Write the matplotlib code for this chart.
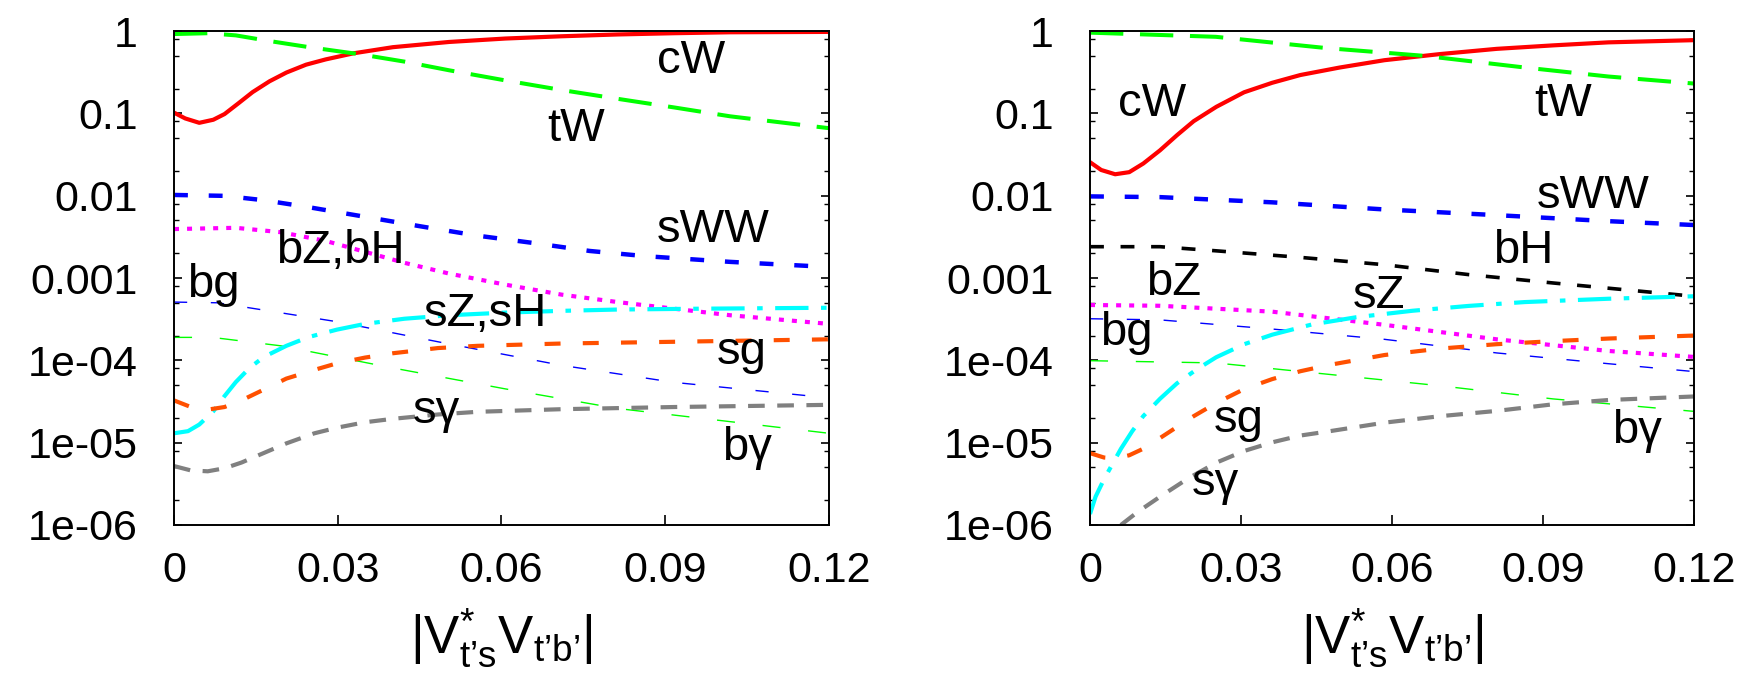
import matplotlib
matplotlib.use("Agg")
import matplotlib.pyplot as plt
from matplotlib.ticker import FixedLocator, FixedFormatter, LogLocator, NullFormatter

plt.rcParams['font.family'] = ['Liberation Sans', 'DejaVu Sans']
plt.rcParams['mathtext.fontset'] = 'custom'
plt.rcParams['mathtext.rm'] = 'Liberation Sans'
plt.rcParams['mathtext.it'] = 'Liberation Sans'
plt.rcParams['lines.scale_dashes'] = False

# y ticks and labels (gnuplot style)
ytick_vals = [1e-6, 1e-5, 1e-4, 1e-3, 1e-2, 1e-1, 1]
ytick_text = ['1e-06', '1e-05', '1e-04', '0.001', '0.01', '0.1', '1']
xtick_vals = [0, 0.03, 0.06, 0.09, 0.12]
xtick_text = ['0', '0.03', '0.06', '0.09', '0.12']

# ---- left panel data ----
L_cW_x = [0, 0.00206, 0.00463, 0.0072, 0.00926, 0.01184, 0.0144, 0.0175, 0.0206, 0.0242, 0.0278,
          0.0329, 0.0401, 0.0504, 0.0607, 0.071, 0.0813, 0.0916, 0.1019, 0.12]
L_cW_y = [0.102, 0.0867, 0.0767, 0.0836, 0.098, 0.133, 0.181, 0.245, 0.313, 0.39, 0.452,
          0.536, 0.636, 0.736, 0.81, 0.863, 0.908, 0.94, 0.965, 0.975]
L_tW_x = [0, 0.00618, 0.01132, 0.0175, 0.0247, 0.03396, 0.0422, 0.05043, 0.06072, 0.07101,
          0.0813, 0.0916, 0.10189, 0.12]
L_tW_y = [0.918, 0.94, 0.885, 0.755, 0.637, 0.523, 0.425, 0.333, 0.251, 0.192,
          0.15, 0.118, 0.092, 0.066]
L_sWW_x = [0, 0.00926, 0.01647, 0.0247, 0.03499, 0.04528, 0.05557, 0.06587, 0.07616, 0.08645, 0.10189, 0.12]
L_sWW_y = [0.0102, 0.00995, 0.0088, 0.00724, 0.00554, 0.00423, 0.00327, 0.00266, 0.00213, 0.00184, 0.00157, 0.00136]
L_bZbH_x = [0, 0.01132, 0.01955, 0.02779, 0.03499, 0.0422, 0.05043, 0.06072, 0.07101, 0.0813, 0.0916, 0.10189, 0.12]
L_bZbH_y = [0.00393, 0.00407, 0.0036, 0.00282, 0.00208, 0.00153, 0.00113, 0.00083, 0.000628, 0.00051,
            0.000424, 0.000353, 0.000277]
L_bg_x = [0, 0.008, 0.0298, 0.0504, 0.071, 0.0916, 0.12]
L_bg_y = [5.1e-4, 5.0e-4, 2.95e-4, 1.58e-4, 8.7e-5, 5.4e-5, 3.5e-5]
L_bgam_x = [0, 0.007, 0.0196, 0.040, 0.0607, 0.0813, 0.1019, 0.12]
L_bgam_y = [1.9e-4, 1.9e-4, 1.5e-4, 8.1e-5, 4.5e-5, 2.6e-5, 1.8e-5, 1.3e-5]
L_sZsH_x = [0, 0.00257, 0.00463, 0.0072, 0.00926, 0.01132, 0.01389, 0.01647, 0.02058, 0.0247, 0.02985,
            0.03499, 0.0422, 0.05043, 0.06072, 0.07101, 0.0813, 0.09674, 0.12]
L_sZsH_y = [1.3e-5, 1.38e-5, 1.66e-5, 2.4e-5, 3.68e-5, 5.44e-5, 8.15e-5, 1.1e-4, 1.5e-4, 1.92e-4, 2.36e-4,
            2.77e-4, 3.2e-4, 3.53e-4, 3.8e-4, 3.99e-4, 4.14e-4, 4.24e-4, 4.35e-4]
L_sg_x = [0, 0.00309, 0.00669, 0.00926, 0.01235, 0.01647, 0.02058, 0.02573, 0.02985, 0.03499,
          0.04014, 0.04837, 0.05558, 0.07101, 0.0916, 0.12]
L_sg_y = [3.26e-5, 2.71e-5, 2.55e-5, 2.71e-5, 3.26e-5, 4.42e-5, 6.0e-5, 7.66e-5, 9.2e-5, 1.08e-4,
          1.22e-4, 1.41e-4, 1.5e-4, 1.6e-4, 1.68e-4, 1.8e-4]
L_sgam_x = [0, 0.00309, 0.00618, 0.00926, 0.01235, 0.01647, 0.02058, 0.02573, 0.02985, 0.03499,
            0.04014, 0.04837, 0.05558, 0.07101, 0.0916, 0.12]
L_sgam_y = [5.2e-6, 4.6e-6, 4.49e-6, 4.89e-6, 5.73e-6, 7.5e-6, 9.8e-6, 1.3e-5, 1.52e-5, 1.77e-5,
            1.95e-5, 2.2e-5, 2.37e-5, 2.55e-5, 2.71e-5, 2.88e-5]

# ---- right panel data ----
R_cW_x = [0, 0.00223, 0.005, 0.0078, 0.0106, 0.0139, 0.0173, 0.0206, 0.0251, 0.0306, 0.0362,
          0.0418, 0.0496, 0.0585, 0.0696, 0.0808, 0.092, 0.103, 0.12]
R_cW_y = [0.0255, 0.0205, 0.0182, 0.0193, 0.0246, 0.0355, 0.0544, 0.0803, 0.12, 0.18, 0.235,
          0.292, 0.36, 0.442, 0.525, 0.607, 0.669, 0.728, 0.774]
R_tW_x = [0, 0.025, 0.047, 0.0663, 0.0864, 0.103, 0.12]
R_tW_y = [0.955, 0.85, 0.62, 0.50, 0.36, 0.28, 0.23]
R_sWW_x = [0, 0.0139, 0.0362, 0.0585, 0.0808, 0.103, 0.12]
R_sWW_y = [0.0098, 0.0096, 0.0083, 0.0068, 0.0058, 0.0049, 0.0044]
R_bH_x = [0, 0.0139, 0.025, 0.0418, 0.0585, 0.0752, 0.092, 0.12]
R_bH_y = [0.0024, 0.0024, 0.00214, 0.00178, 0.00145, 0.0011, 0.00087, 0.0006]
R_bZ_x = [0, 0.0139, 0.0362, 0.0585, 0.0808, 0.103, 0.12]
R_bZ_y = [4.7e-4, 4.6e-4, 3.9e-4, 2.7e-4, 1.8e-4, 1.3e-4, 1.1e-4]
R_bg_x = [0, 0.0139, 0.0362, 0.0585, 0.0808, 0.103, 0.12]
R_bg_y = [3.2e-4, 3.1e-4, 2.4e-4, 1.8e-4, 1.23e-4, 9.1e-5, 7.3e-5]
R_bgam_x = [0, 0.025, 0.047, 0.0697, 0.092, 0.12]
R_bgam_y = [9.9e-5, 9.3e-5, 6.8e-5, 4.9e-5, 3.4e-5, 2.4e-5]
R_sZ_x = [0, 0.00111, 0.00279, 0.00446, 0.00613, 0.00836, 0.01058, 0.01393, 0.01727, 0.02117, 0.02507,
          0.03064, 0.03621, 0.04401, 0.05292, 0.06407, 0.07521, 0.08635, 0.10306, 0.12]
R_sZ_y = [1.36e-6, 2.21e-6, 3.6e-6, 5.5e-6, 8.4e-6, 1.37e-5, 2.1e-5, 3.42e-5, 5.25e-5, 7.74e-5, 1.09e-4,
          1.57e-4, 2.05e-4, 2.72e-4, 3.34e-4, 4.0e-4, 4.58e-4, 5.1e-4, 5.6e-4, 6.0e-4]
R_sg_x = [0, 0.00279, 0.00501, 0.0078, 0.01058, 0.01393, 0.01727, 0.02061, 0.02507, 0.03064,
          0.03621, 0.04178, 0.04735, 0.0585, 0.06964, 0.08078, 0.09192, 0.10306, 0.12]
R_sg_y = [7.46e-6, 6.6e-6, 6.45e-6, 7.03e-6, 8.44e-6, 1.14e-5, 1.55e-5, 2.1e-5, 3.03e-5, 4.48e-5,
          5.92e-5, 7.37e-5, 8.75e-5, 1.16e-4, 1.39e-4, 1.57e-4, 1.71e-4, 1.84e-4, 2.0e-4]
R_sgam_x = [0.00613, 0.00947, 0.01393, 0.0195, 0.02507, 0.03064, 0.03621, 0.04178, 0.04735,
            0.0585, 0.06964, 0.08078, 0.09192, 0.10306, 0.12]
R_sgam_y = [1.0e-6, 1.44e-6, 2.21e-6, 3.68e-6, 5.71e-6, 7.93e-6, 1.01e-5, 1.22e-5, 1.37e-5,
            1.75e-5, 2.1e-5, 2.43e-5, 2.92e-5, 3.3e-5, 3.64e-5]

# curve labels: text, x, y
L_labels = [('cW', 0.0947, 0.43), ('tW', 0.0736, 0.064), ('sWW', 0.0988, 0.0038),
            ('bZ,bH', 0.0304, 0.0021), ('bg', 0.0072, 0.00083), ('sZ,sH', 0.057, 0.00037),
            ('sg', 0.104, 0.000126), ('s\u03b3', 0.048, 2.4e-5), ('b\u03b3', 0.105, 8.5e-6)]
R_labels = [('cW', 0.0123, 0.129), ('tW', 0.094, 0.129), ('sWW', 0.100, 0.01),
            ('bH', 0.086, 0.00214), ('bZ', 0.0167, 0.00087), ('sZ', 0.0574, 0.0006),
            ('bg', 0.0072, 0.000214), ('sg', 0.0295, 1.86e-5), ('b\u03b3', 0.1086, 1.38e-5),
            ('s\u03b3', 0.025, 3.2e-6)]

xlabel = ('$|\\mathrm{V}^{*}_{\\mathrm{t\u2019s}}'
          '\\mathrm{V}_{\\mathrm{t\u2019b\u2019}}|$')

GREEN = '#00ff00'
BLUE = '#0000ff'
MAG = '#ff00ff'
CYAN = '#00ffff'
ORANGE = '#ff5000'
GRAY = '#808080'

st_tW = dict(color=GREEN, lw=2.9, dashes=(24, 12))
st_sWW = dict(color=BLUE, lw=3.2, dashes=(10, 15))
st_dot = dict(color=MAG, lw=3.0, dashes=(3.6, 5.8))
st_bg = dict(color=BLUE, lw=1.0, dashes=(9.5, 17))
st_bgam = dict(color=GREEN, lw=1.0, dashes=(13, 20))
st_sZ = dict(color=CYAN, lw=3.0, dashes=(24, 9, 4, 9))
st_sg = dict(color=ORANGE, lw=3.0, dashes=(11.5, 16))
st_sgam = dict(color=GRAY, lw=3.0, dashes=(12, 9))
st_bH = dict(color='black', lw=2.6, dashes=(10, 12))


def setup(ax):
    ax.set_yscale('log')
    ax.set_xlim(0, 0.12)
    ax.set_ylim(1e-6, 1)
    ax.yaxis.set_major_locator(FixedLocator(ytick_vals))
    ax.yaxis.set_major_formatter(FixedFormatter(ytick_text))
    ax.yaxis.set_minor_locator(LogLocator(base=10, subs=(2, 5, 8), numticks=20))
    ax.yaxis.set_minor_formatter(NullFormatter())
    ax.xaxis.set_major_locator(FixedLocator(xtick_vals))
    ax.xaxis.set_major_formatter(FixedFormatter(xtick_text))
    ax.tick_params(axis='y', which='major', direction='in', length=6, width=1.2,
                   left=True, right=True, labelsize=31, pad=26)
    ax.tick_params(axis='y', which='minor', direction='in', length=3.5, width=1.0,
                   left=True, right=True)
    ax.tick_params(axis='x', which='major', direction='in', length=7, width=1.2,
                   top=False, bottom=True, labelsize=31, pad=19)
    for s in ax.spines.values():
        s.set_linewidth(1.4)
    ax.set_xlabel(xlabel, fontsize=38, labelpad=11)


fig = plt.figure(figsize=(17.58, 6.83), dpi=100)
ax1 = fig.add_axes([174 / 1758, 158 / 683, 655 / 1758, 494 / 683])
ax2 = fig.add_axes([1090 / 1758, 158 / 683, 604 / 1758, 494 / 683])

# left panel
ax1.plot(L_cW_x, L_cW_y, color='red', lw=3.0, solid_joinstyle='round')
ax1.plot(L_tW_x, L_tW_y, **st_tW)
ax1.plot(L_sWW_x, L_sWW_y, **st_sWW)
ax1.plot(L_bZbH_x, L_bZbH_y, **st_dot)
ax1.plot(L_bg_x, L_bg_y, **st_bg)
ax1.plot(L_bgam_x, L_bgam_y, **st_bgam)
ax1.plot(L_sZsH_x, L_sZsH_y, **st_sZ)
ax1.plot(L_sg_x, L_sg_y, **st_sg)
ax1.plot(L_sgam_x, L_sgam_y, **st_sgam)
setup(ax1)
for t, x, y in L_labels:
    ax1.text(x, y, t, fontsize=34, ha='center', va='center')

# right panel
ax2.plot(R_cW_x, R_cW_y, color='red', lw=3.0, solid_joinstyle='round')
ax2.plot(R_tW_x, R_tW_y, **st_tW)
ax2.plot(R_sWW_x, R_sWW_y, **st_sWW)
ax2.plot(R_bH_x, R_bH_y, **st_bH)
ax2.plot(R_bZ_x, R_bZ_y, **st_dot)
ax2.plot(R_bg_x, R_bg_y, **st_bg)
ax2.plot(R_bgam_x, R_bgam_y, **st_bgam)
ax2.plot(R_sZ_x, R_sZ_y, **st_sZ)
ax2.plot(R_sg_x, R_sg_y, **st_sg)
ax2.plot(R_sgam_x, R_sgam_y, **st_sgam)
setup(ax2)
for t, x, y in R_labels:
    ax2.text(x, y, t, fontsize=34, ha='center', va='center')

fig.savefig('out.png', dpi=100)
